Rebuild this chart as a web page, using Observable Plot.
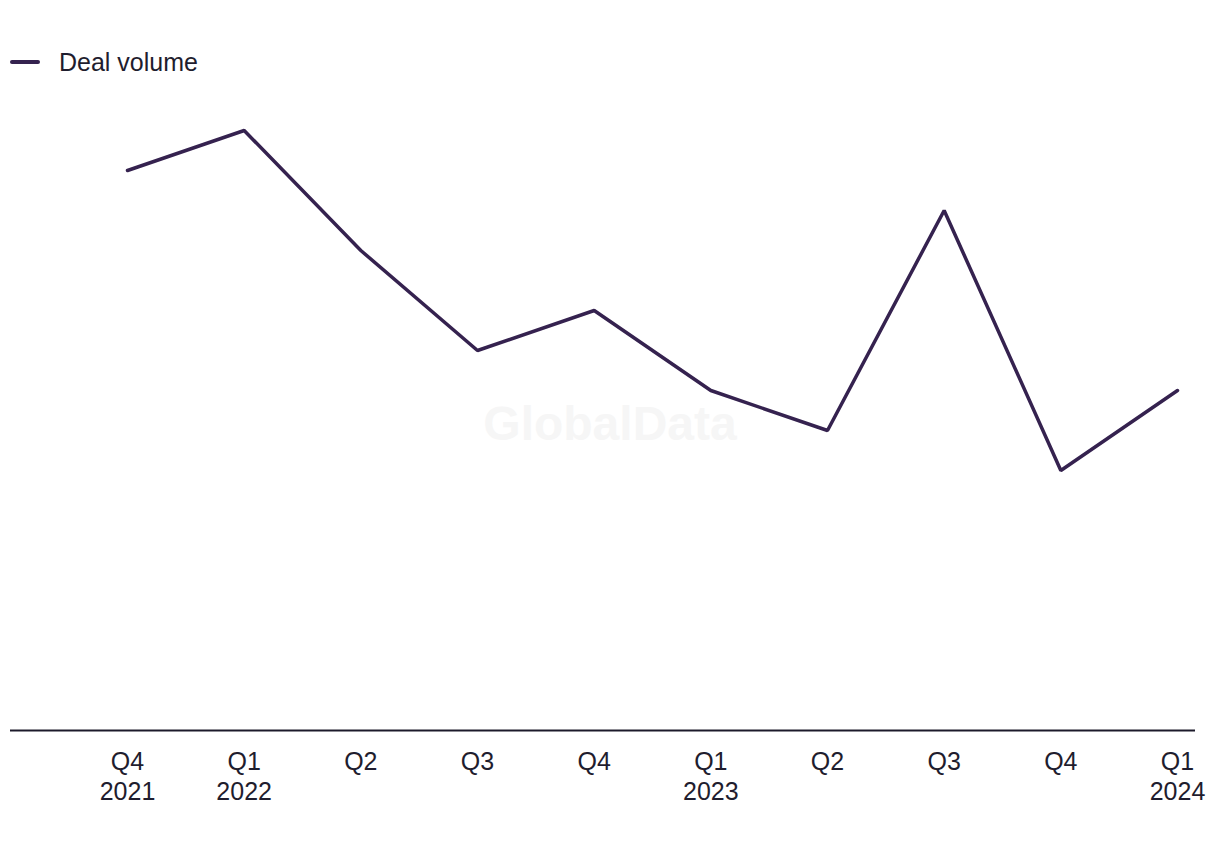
<!DOCTYPE html>
<html>
<head>
<meta charset="utf-8">
<script src="https://cdn.jsdelivr.net/npm/d3@7"></script>
<script src="https://cdn.jsdelivr.net/npm/@observablehq/plot@0.6"></script>
<style>
  body { margin: 0; background: #fff; font-family: "Liberation Sans", Arial, sans-serif; }
  #wrap { position: relative; width: 1220px; height: 850px; }
  #legend { height: 100px; box-sizing: border-box; padding-top: 48px; }
  #legend .item { display: flex; align-items: center; height: 28px; color: #1f1d2e; font-size: 25px; }
  #legend .swatch { width: 30px; height: 3.5px; background: #35224f; margin-left: 10px; margin-right: 19px; border-radius: 2px; }
  #wm { position: absolute; left: 0; width: 1220px; top: 396px; text-align: center; font-size: 48px; font-weight: bold; color: #f6f6f6; pointer-events: none; }
</style>
</head>
<body>
<div id="wrap">
  <div id="legend"><div class="item"><span class="swatch"></span><span>Deal volume</span></div></div>
  <div id="wm">GlobalData</div>
  <div id="chart"></div>
</div>
<script>
const quarters = ["Q4\n2021", "Q1\n2022", "Q2", "Q3", "Q4", "Q1\n2023", "Q2", "Q3", "Q4", "Q1\n2024"];
const keys = ["2021Q4", "2022Q1", "2022Q2", "2022Q3", "2022Q4", "2023Q1", "2023Q2", "2023Q3", "2023Q4", "2024Q1"];
const dealVolume = [28, 30, 24, 19, 21, 17, 15, 26, 13, 17];

const data = keys.map((k, i) => ({key: k, label: quarters[i], value: dealVolume[i]}));
const labelOf = new Map(keys.map((k, i) => [k, quarters[i]]));

const chart = Plot.plot({
  width: 1220,
  height: 750,
  marginLeft: 10,
  marginRight: 25,
  marginTop: 30,
  marginBottom: 120,
  style: { fontFamily: "Liberation Sans, Arial, sans-serif", fontSize: "25px", color: "#1f1d2e", background: "transparent" },
  x: { type: "point", domain: keys, range: [127, 1177], padding: 0, round: false },
  y: { domain: [0, 30], axis: null },
  marks: [
    Plot.ruleY([0], { stroke: "#1c1a2b", strokeWidth: 2 }),
    Plot.axisX({ tickSize: 0, tickPadding: 18, fontSize: 25, lineHeight: 1.2, tickFormat: d => labelOf.get(d), fill: "#1f1d2e", label: null }),
    Plot.line(data, { x: "key", y: "value", stroke: "#35224f", strokeWidth: 3.5, strokeLinejoin: "miter" })
  ]
});
document.getElementById("chart").appendChild(chart);
</script>
</body>
</html>
